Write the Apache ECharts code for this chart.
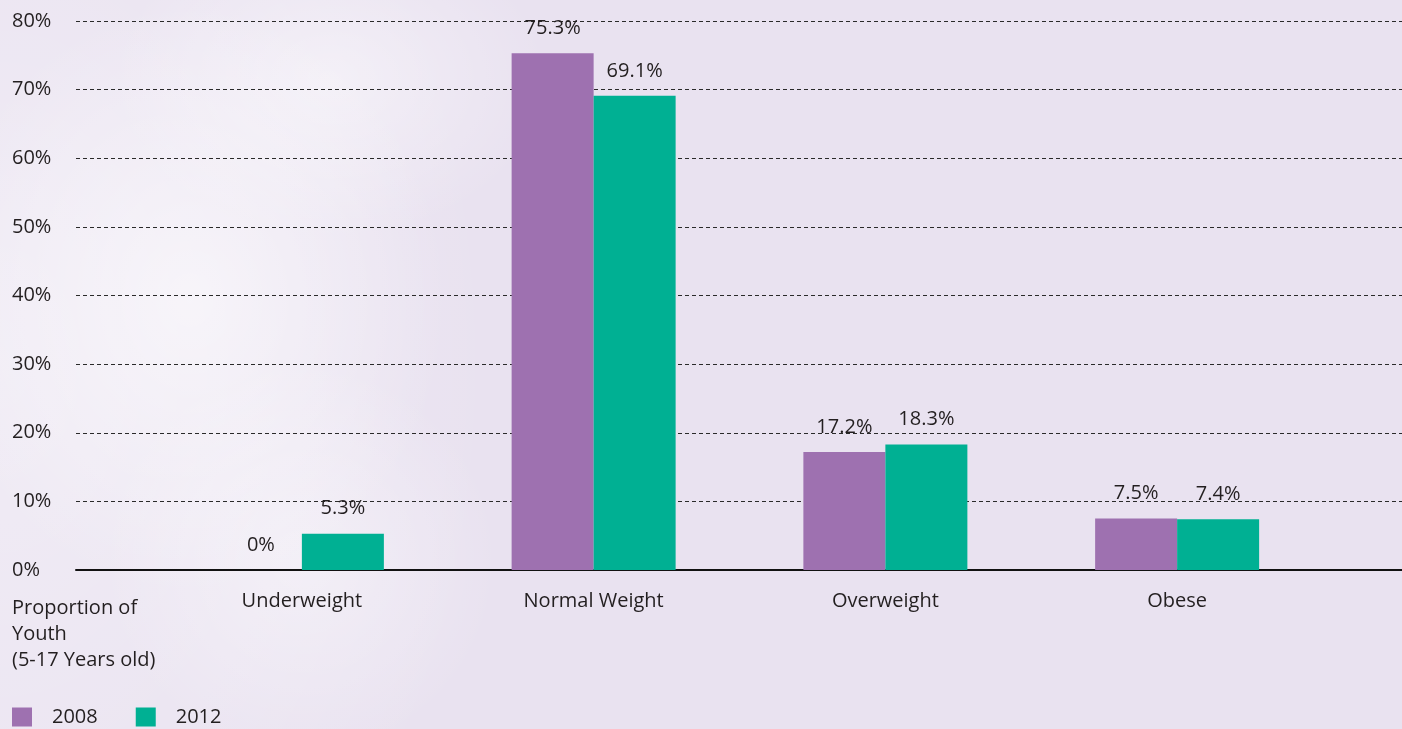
<!DOCTYPE html>
<html>
<head>
<meta charset="utf-8">
<script src="https://cdn.jsdelivr.net/npm/echarts@6/dist/echarts.min.js"></script>
<style>
  html, body { margin: 0; padding: 0; }
  body {
    width: 1402px; height: 729px; overflow: hidden;
    background-color: #e9e2f0;
    background-image:
      radial-gradient(ellipse 260px 300px at 190px 300px, rgba(255,255,255,0.55), rgba(255,255,255,0) 100%),
      radial-gradient(ellipse 220px 160px at 330px 80px, rgba(255,255,255,0.45), rgba(255,255,255,0) 100%),
      radial-gradient(ellipse 200px 200px at 300px 560px, rgba(255,255,255,0.40), rgba(255,255,255,0) 100%),
      radial-gradient(ellipse 500px 729px at 0px 364px, rgba(255,255,255,0.35), rgba(255,255,255,0) 100%);
  }
  #chart { width: 1402px; height: 729px; }
</style>
</head>
<body>
<div id="chart"></div>
<script>
// Body-weight categories of youth aged 5-17, share of population by survey year
const categories = ['Underweight', 'Normal Weight', 'Overweight', 'Obese'];
const values2008 = [0, 75.3, 17.2, 7.5];
const values2012 = [5.3, 69.1, 18.3, 7.4];
const seriesNames = ['2008', '2012'];
const yTicks = { min: 0, max: 80, step: 10 };

const FONT = '"Open Sans", "Liberation Sans", sans-serif';
const WEIGHT = 400;
const INK = '#231f20';
const PURPLE = '#9e71b0';
const TEAL = '#00b093';

const chart = echarts.init(document.getElementById('chart'), null, { renderer: 'canvas' });

const plotTop = 21;
const plotHeight = 549;

const barLabel = {
  show: true,
  position: 'top',
  distance: 15,
  formatter: p => p.value + '%',
  color: INK,
  fontFamily: FONT,
  fontWeight: WEIGHT,
  fontSize: 20,
  lineHeight: 20
};

chart.setOption({
  animation: false,
  backgroundColor: 'transparent',
  textStyle: { fontFamily: FONT, color: INK },
  grid: [
    // full-width frame: gridlines, y labels and baseline
    { left: 76, right: 0, top: plotTop, height: plotHeight },
    // bar area
    { left: 156, width: 1167, top: plotTop, height: plotHeight }
  ],
  legend: {
    left: 12,
    top: 707,
    padding: 0,
    icon: 'rect',
    itemWidth: 20,
    itemHeight: 19,
    itemGap: 38,
    data: seriesNames,
    textStyle: {
      fontFamily: FONT, fontWeight: WEIGHT, fontSize: 20, color: INK,
      padding: [0, 0, 0, 15]
    }
  },
  xAxis: [
    {
      gridIndex: 0, type: 'category', data: [''],
      axisLine: { show: true, lineStyle: { color: '#111', width: 2 } },
      axisTick: { show: false }, axisLabel: { show: false }, splitLine: { show: false }
    },
    {
      gridIndex: 1, type: 'category', data: categories,
      axisLine: { show: false }, axisTick: { show: false },
      axisLabel: {
        margin: 21, color: INK, fontFamily: FONT, fontWeight: WEIGHT, fontSize: 20
      }
    }
  ],
  yAxis: [
    {
      gridIndex: 0, type: 'value',
      min: yTicks.min, max: yTicks.max, interval: yTicks.step,
      axisLine: { show: false }, axisTick: { show: false },
      axisLabel: {
        formatter: '{value}%', align: 'left', margin: 64,
        color: INK, fontFamily: FONT, fontWeight: WEIGHT, fontSize: 20
      },
      splitLine: {
        show: true,
        lineStyle: { color: '#2a2a2a', width: 1, type: [4, 3] }
      }
    },
    {
      gridIndex: 1, type: 'value',
      min: yTicks.min, max: yTicks.max, interval: yTicks.step,
      show: false, splitLine: { show: false }
    }
  ],
  series: [
    {
      name: seriesNames[0], type: 'bar', xAxisIndex: 1, yAxisIndex: 1,
      data: values2008, barWidth: 82, barGap: '0%',
      itemStyle: { color: PURPLE }, label: barLabel
    },
    {
      name: seriesNames[1], type: 'bar', xAxisIndex: 1, yAxisIndex: 1,
      data: values2012, barWidth: 82, barGap: '0%',
      itemStyle: { color: TEAL }, label: barLabel
    }
  ],
  graphic: [
    {
      type: 'text', left: 12, top: 595,
      style: {
        text: 'Proportion of\nYouth\n(5-17 Years old)',
        fill: INK, font: WEIGHT + ' 20px ' + FONT, lineHeight: 26
      }
    }
  ]
});
</script>
</body>
</html>
